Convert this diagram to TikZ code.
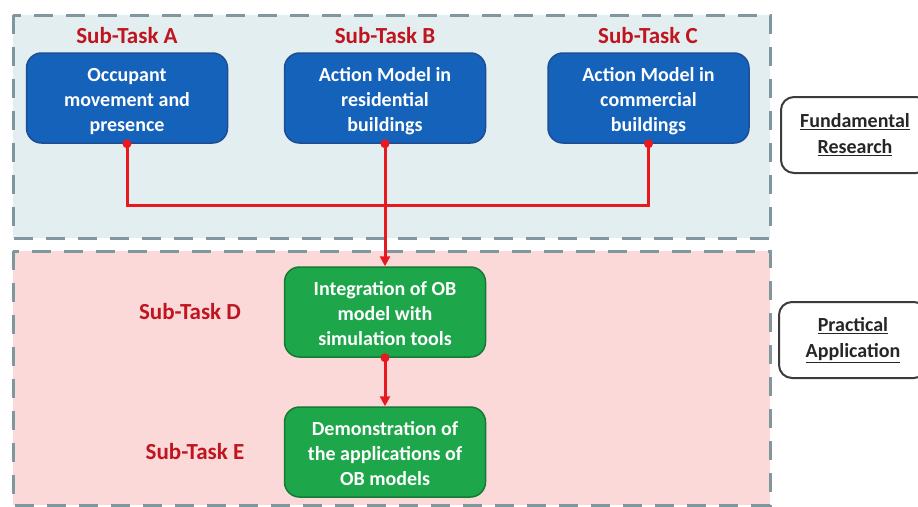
\documentclass[tikz,border=0pt]{standalone}
\usepackage{fontspec}
\setmainfont{Carlito}
\usetikzlibrary{arrows.meta,positioning}
\definecolor{bluefill}{HTML}{1462BA}
\definecolor{blueedge}{HTML}{1E4D96}
\definecolor{greenfill}{HTML}{1DA64A}
\definecolor{greenedge}{HTML}{157A33}
\definecolor{redtext}{HTML}{C0141E}
\definecolor{redline}{HTML}{E8191E}
\definecolor{dashgrey}{HTML}{7F979D}
\definecolor{topbg}{HTML}{E3EEF0}
\definecolor{botbg}{HTML}{FCD9D9}
\definecolor{sidegrey}{HTML}{3C3C3C}
\newcommand{\boxtext}[1]{\raisebox{-3pt}[\height][\depth]{\begin{tabular}{@{}c@{}}#1\end{tabular}}}
\tikzset{
  region/.style={draw=dashgrey, line width=3pt, dash pattern=on 19pt off 13pt},
  taskbox/.style={rounded corners=15pt, line width=1.5pt, minimum width=201pt, minimum height=90pt,
    align=center, text=white, font=\bfseries\fontsize{20}{25}\selectfont, inner sep=2pt},
  bluebox/.style={taskbox, fill=bluefill, draw=blueedge},
  greenbox/.style={taskbox, fill=greenfill, draw=greenedge},
  tasklabel/.style={text=redtext, font=\bfseries\fontsize{23}{27}\selectfont},
  sidebox/.style={draw=sidegrey, line width=2pt, rounded corners=13pt, fill=white,
    minimum width=148pt, minimum height=76pt, align=center, text=black!85,
    font=\bfseries\fontsize{20}{26}\selectfont},
  link/.style={draw=redline, line width=3pt},
  arrowlink/.style={link, -{Triangle[length=10pt,width=10pt]}},
  dot/.style={fill=redline}
}
\begin{document}
\begin{tikzpicture}[x=1pt,y=-1pt]
\useasboundingbox (0,0) rectangle (918,506);
\fill[white] (0,0) rectangle (918,506);
% regions
\filldraw[region, fill=topbg] (13,15) rectangle (770,238);
\filldraw[region, fill=botbg] (13,251) rectangle (770,505);
% labels
\node[tasklabel] (la) at (127,36) {Sub-Task A};
\node[tasklabel] (lb) at (385,36) {Sub-Task B};
\node[tasklabel] (lc) at (648,36) {Sub-Task C};
\node[tasklabel] (ld) at (190,312) {Sub-Task D};
\node[tasklabel] (le) at (195,452) {Sub-Task E};
% task boxes
\node[bluebox] (A) at (127,98) {\boxtext{Occupant\\movement and\\presence}};
\node[bluebox] (B) at (385,98) {\boxtext{Action Model in\\residential\\buildings}};
\node[bluebox] (C) at (648.5,98) {\boxtext{Action Model in\\commercial\\buildings}};
\node[greenbox] (D) at (385,312) {\boxtext{Integration of OB\\model with\\simulation tools}};
\node[greenbox] (E) at (385,452) {\boxtext{Demonstration of\\the applications of\\OB models}};
% side boxes
\node[sidebox] (F) at (855,135) {\underline{Fundamental}\\\underline{Research}};
\node[sidebox] (P) at (853,340) {\underline{Practical}\\\underline{Application}};
% connectors
\coordinate (j) at (385,205);
\draw[link] (A.south) |- (j) -| (C.south);
\draw[arrowlink] (B.south) -- (D.north);
\draw[arrowlink] (D.south) -- (E.north);
\fill[dot] (A.south) circle (4.5pt);
\fill[dot] (B.south) circle (4.5pt);
\fill[dot] (C.south) circle (4.5pt);
\fill[dot] (D.south) circle (4.5pt);
\end{tikzpicture}
\end{document}
